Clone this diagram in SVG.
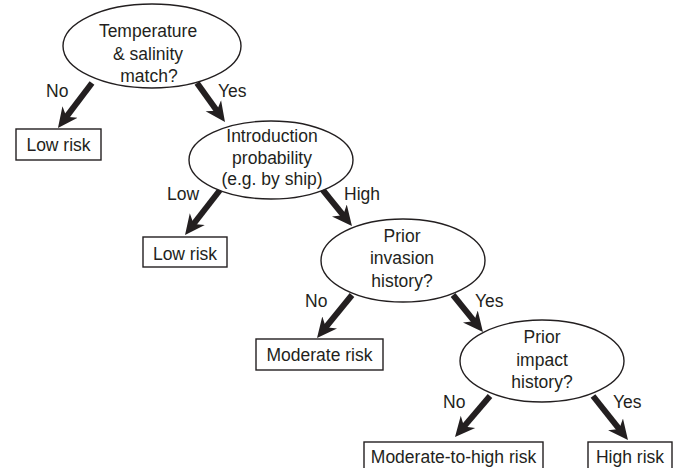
<svg xmlns="http://www.w3.org/2000/svg" width="675" height="468" viewBox="0 0 675 468">
<style>
text{font-family:"Liberation Sans",Arial,sans-serif;font-size:17.5px;fill:#231f20;text-anchor:middle}
.lab{text-anchor:start}
ellipse,rect{fill:#fff;stroke:#231f20;stroke-width:1.4}
.arr{stroke:#231f20;stroke-width:6;fill:none;marker-end:url(#ah)}
</style>
<defs>
<marker id="ah" markerUnits="userSpaceOnUse" markerWidth="22" markerHeight="22" viewBox="0 -11 22 22" refX="8" refY="0" orient="auto">
<path d="M0,-9.5 L20,0 L0,9.5 L6,0 Z" fill="#231f20"/>
</marker>
</defs>
<rect width="675" height="468" fill="#fff" style="stroke:none"/>
<g id="connectors">
<line class="arr" x1="92" y1="83" x2="65.2" y2="118.4"/>
<line class="arr" x1="197" y1="83" x2="218" y2="112.3"/>
<line class="arr" x1="220" y1="190" x2="192.4" y2="225.5"/>
<line class="arr" x1="322" y1="189" x2="344.4" y2="216.7"/>
<line class="arr" x1="352" y1="295" x2="324.6" y2="328.7"/>
<line class="arr" x1="453" y1="295" x2="475.4" y2="322.7"/>
<line class="arr" x1="490" y1="396" x2="462.8" y2="427.9"/>
<line class="arr" x1="593" y1="396" x2="620.5" y2="430.6"/>
<text class="lab" x="46" y="97">No</text>
<text class="lab" x="218" y="97">Yes</text>
<text class="lab" x="167" y="200">Low</text>
<text class="lab" x="344" y="200">High</text>
<text class="lab" x="305" y="307">No</text>
<text class="lab" x="475" y="307">Yes</text>
<text class="lab" x="443" y="408">No</text>
<text class="lab" x="613" y="408">Yes</text>
</g>
<g id="q1">
<ellipse cx="152" cy="46" rx="89" ry="42"/>
<text x="148" y="37">Temperature</text>
<text x="148" y="60">&amp; salinity</text>
<text x="149" y="82">match?</text>
</g>
<g id="r1">
<rect x="16" y="129" width="85" height="31"/>
<text x="58.5" y="151">Low risk</text>
</g>
<g id="q2">
<ellipse cx="271" cy="160" rx="82" ry="39"/>
<text x="272" y="142">Introduction</text>
<text x="272" y="164">probability</text>
<text x="272" y="185">(e.g. by ship)</text>
</g>
<g id="r2">
<rect x="143" y="237" width="84" height="30"/>
<text x="185" y="260">Low risk</text>
</g>
<g id="q3">
<ellipse cx="403" cy="260.5" rx="82" ry="41.5"/>
<text x="402" y="242">Prior</text>
<text x="402" y="264">invasion</text>
<text x="402" y="287">history?</text>
</g>
<g id="r3">
<rect x="256" y="339" width="127" height="31"/>
<text x="319.5" y="361">Moderate risk</text>
</g>
<g id="q4">
<ellipse cx="542" cy="361" rx="82" ry="41"/>
<text x="542" y="343">Prior</text>
<text x="542" y="366">impact</text>
<text x="542" y="388">history?</text>
</g>
<g id="r4">
<rect x="364" y="442" width="179" height="34"/>
<text x="453.5" y="463">Moderate-to-high risk</text>
</g>
<g id="r5">
<rect x="588" y="442" width="84" height="34"/>
<text x="630" y="463">High risk</text>
</g>
</svg>
